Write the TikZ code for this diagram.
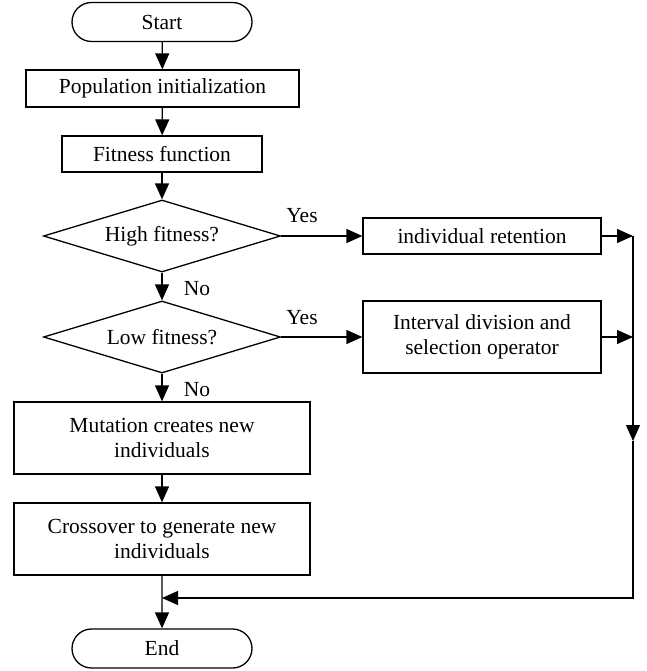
\documentclass[tikz,border=0pt]{standalone}
\usepackage{fontspec}
\setmainfont{Liberation Serif}
\usetikzlibrary{shapes.geometric,shapes.misc,arrows.meta}
\begin{document}
\begin{tikzpicture}[x=1pt,y=-1pt,
  every node/.style={font=\fontsize{21.5}{25.5}\selectfont, text=black},
  base/.style={draw, line width=1.3pt, inner sep=0pt, align=center},
  term/.style={base, rounded rectangle, minimum width=180pt, minimum height=39pt},
  proc/.style={base, rectangle, minimum height=36pt},
  dec/.style={base, diamond, aspect=3.3, minimum width=237pt, minimum height=72pt},
  arr/.style={line width=1.3pt, -{Triangle[length=16pt,width=14pt]}},
  lbl/.style={inner sep=0pt}]
\useasboundingbox (0,0) rectangle (646,671);
\node[term] (start) at (162,22) {Start};
\node[proc, minimum width=273pt, minimum height=37pt] (pop) at (162.5,88.5) {Population initialization};
\node[proc, minimum width=200pt] (fit) at (162,154) {Fitness function};
\node[dec] (d1) at (162,236) {High fitness?};
\node[proc, minimum width=238pt] (ret) at (482,236) {individual retention};
\node[dec] (d2) at (162,337) {Low fitness?};
\node[proc, minimum width=238pt, minimum height=72pt] (int) at (482,337) {Interval division and\\selection operator};
\node[proc, minimum width=296pt, minimum height=72pt] (mut) at (162,438) {Mutation creates new\\individuals};
\node[proc, minimum width=296pt, minimum height=72pt] (cross) at (162,539) {Crossover to generate new\\individuals};
\node[term] (end) at (162,648.5) {End};
\coordinate (r1) at (633,236);
\coordinate (r2) at (633,337);
\coordinate (rm) at (633,441);
\coordinate (rc) at (633,598);
\coordinate (mg) at (162,598);
\draw[arr] (start) -- (pop);
\draw[arr] (pop) -- (fit);
\draw[arr] (fit) -- (d1);
\draw[arr] (d1) -- (d2);
\draw[arr] (d2) -- (mut);
\draw[arr] (mut) -- (cross);
\draw[arr] (cross) -- (end);
\draw[arr] (d1.east) -- (ret.west);
\draw[arr] (d2.east) -- (int.west);
\draw[arr] (ret.east) -- (r1);
\draw[arr] (int.east) -- (r2);
\draw[arr] (r1) -- (rm);
\draw[arr] (rm) -- (rc) -- (mg);
\node[lbl] (y1) at (302,216) {Yes};
\node[lbl] (y2) at (302,318) {Yes};
\node[lbl] (n1) at (197,289) {No};
\node[lbl] (n2) at (197,390) {No};
\end{tikzpicture}
\end{document}
